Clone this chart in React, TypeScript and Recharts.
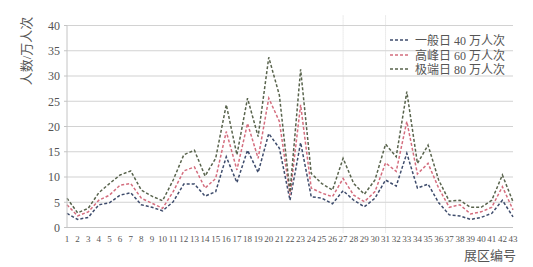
import { LineChart, Line, XAxis, YAxis, CartesianGrid, Legend, ReferenceLine } from 'recharts';

const zones = [
  '1', '2', '3', '4', '5', '6', '7', '8', '9', '10',
  '11', '12', '13', '14', '15', '16', '17', '18', '19', '20',
  '21', '22', '23', '24', '25', '26', '27', '28', '29', '30',
  '31', '32', '33', '34', '35', '36', '37', '38', '39', '40',
  '41', '42', '43',
];

// 一般日 40 万人次
const normalDay = [
  2.8, 1.6, 2.0, 4.5, 4.9, 6.4, 6.9, 4.5, 4.0, 3.3,
  5.1, 8.6, 8.6, 6.2, 7.1, 14.0, 8.9, 15.3, 10.9, 18.6,
  15.7, 5.4, 16.8, 6.1, 5.8, 4.7, 7.3, 5.4, 4.1, 5.8,
  9.4, 8.2, 14.7, 7.8, 8.6, 4.9, 2.5, 2.3, 1.6, 2.0,
  2.8, 5.4, 2.1,
];

// 高峰日 60 万人次
const peakDay = [
  4.5, 2.3, 3.1, 5.4, 6.4, 8.4, 8.7, 5.8, 4.8, 3.8,
  7.1, 11.2, 12.0, 7.8, 9.7, 19.0, 11.4, 20.6, 13.7, 25.6,
  21.0, 6.4, 24.3, 7.8, 6.8, 6.1, 9.7, 6.4, 5.1, 7.1,
  12.8, 11.1, 21.0, 10.6, 12.7, 7.8, 4.0, 4.5, 2.7, 3.1,
  4.0, 8.1, 3.5,
];

// 极端日 80 万人次
const extremeDay = [
  5.8, 2.9, 3.8, 6.9, 8.7, 10.4, 11.2, 7.4, 6.2, 5.3,
  9.4, 14.4, 15.3, 10.2, 13.7, 24.3, 14.4, 25.6, 18.0, 33.7,
  26.2, 7.0, 31.3, 10.7, 8.7, 7.4, 13.7, 8.7, 6.6, 9.4,
  16.5, 14.0, 26.9, 12.7, 16.3, 9.4, 5.2, 5.4, 4.0, 4.0,
  5.4, 10.4, 5.1,
];

const yTicks = [0, 5, 10, 15, 20, 25, 30, 35, 40];
const markedZones = ['27', '31'];

const SERIES = [
  { key: 'normal', name: '一般日 40 万人次', color: '#3e4c6c' },
  { key: 'peak', name: '高峰日 60 万人次', color: '#d46d7e' },
  { key: 'extreme', name: '极端日 80 万人次', color: '#58634c' },
];

const FONT = "'Liberation Serif', 'Noto Sans CJK SC', serif";
const TEXT = '#555';

const chartData = zones.map((zone, i) => ({
  zone,
  normal: normalDay[i],
  peak: peakDay[i],
  extreme: extremeDay[i],
}));

function DashLegend() {
  return (
    <div style={{ fontFamily: FONT, fontSize: 12, color: TEXT }}>
      {SERIES.map((s) => (
        <div key={s.key} style={{ display: 'flex', alignItems: 'center', height: 14.5, whiteSpace: 'nowrap' }}>
          <svg width={20} height={4} style={{ marginRight: 5 }}>
            <line x1={0} y1={2} x2={20} y2={2} stroke={s.color} strokeWidth={1.5} strokeDasharray="3 2" />
          </svg>
          <span>{s.name}</span>
        </div>
      ))}
    </div>
  );
}

export default function App() {
  return (
    <div style={{ position: 'absolute', left: 0, top: 0, width: 533, height: 267, background: '#fff', fontFamily: FONT }}>
      <LineChart width={533} height={267} data={chartData} margin={{ top: 25.5, right: 20, bottom: 19.5, left: 0 }}>
        <CartesianGrid vertical={false} stroke="#d2d2d2" strokeWidth={1.2} />
        <XAxis
          dataKey="zone"
          interval={0}
          height={20}
          tickSize={0}
          tickMargin={8}
          axisLine={{ stroke: '#c4c4c4' }}
          tick={{ fontSize: 9, fill: TEXT, fontFamily: FONT }}
        />
        <YAxis
          type="number"
          domain={[0, 40]}
          ticks={yTicks}
          width={67}
          tickSize={3}
          tickMargin={4}
          tickLine={{ stroke: '#c4c4c4' }}
          axisLine={{ stroke: '#c4c4c4' }}
          tick={{ fontSize: 12, fill: TEXT, fontFamily: FONT }}
        />
        {markedZones.map((z) => (
          <ReferenceLine
            key={z}
            segment={[{ x: z, y: -1 }, { x: z, y: 42 }]}
            ifOverflow="visible"
            stroke="#d8d8d8"
            strokeDasharray="1 1"
          />
        ))}
        {SERIES.map((s) => (
          <Line
            key={s.key}
            type="linear"
            dataKey={s.key}
            name={s.name}
            stroke={s.color}
            strokeWidth={1.5}
            strokeDasharray="3 2"
            dot={false}
            isAnimationActive={false}
          />
        ))}
        <Legend
          layout="vertical"
          align="center"
          verticalAlign="middle"
          content={<DashLegend />}
          wrapperStyle={{ left: 390, top: 33, width: 'auto', height: 'auto' }}
        />
      </LineChart>
      <div
        style={{
          position: 'absolute',
          left: 25,
          top: 51,
          transform: 'translate(-50%, -50%) rotate(-90deg)',
          whiteSpace: 'nowrap',
          fontSize: 13,
          color: TEXT,
        }}
      >
        人数/万人次
      </div>
      <div
        style={{
          position: 'absolute',
          right: 17,
          top: 246.5,
          lineHeight: '18px',
          fontSize: 13,
          color: TEXT,
        }}
      >
        展区编号
      </div>
    </div>
  );
}
